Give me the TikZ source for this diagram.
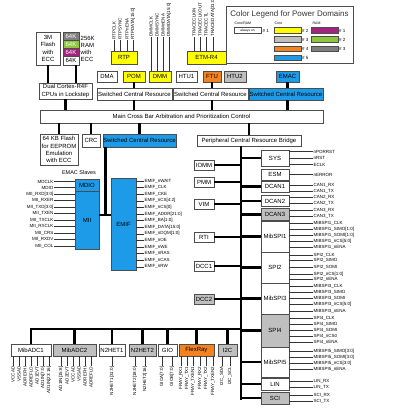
\documentclass[tikz,border=0pt]{standalone}
\usepackage{fontspec}
\setmainfont{Liberation Sans}
\usetikzlibrary{calc}
\definecolor{cyel}{HTML}{FFFF00}
\definecolor{cgray}{HTML}{BFBFBF}
\definecolor{corange}{HTML}{F58220}
\definecolor{cblue}{HTML}{1E9BE8}
\definecolor{cmag}{HTML}{A3237F}
\definecolor{cgreen}{HTML}{8DC63F}
\definecolor{cdgray}{HTML}{7F7F7F}
\definecolor{edge}{HTML}{4D4D4D}
\newcommand{\blkn}[6][]{\node[blk,#1,minimum width=#4pt,minimum height=#5pt] (#2) at (#3) {#6};}
\newcommand{\tpin}[5]{\node[plbl,rotate=90,anchor=west] (#1) at (#2,#3) {#5}; \draw[pin] (#1.west) -- (#1.west |- #4.north);}
\newcommand{\bpin}[4]{\node[plbl,rotate=90,anchor=east] (#1) at (#2,366) {#4}; \draw[pin] (#1.east) -- (#1.east |- #3.south);}
\newcommand{\rpin}[4]{\node[plbl,anchor=west] (#1) at (313,#2) {#4}; \draw[pin] (#3.east |- #1.west) -- (#1.west);}
\newcommand{\lpin}[4]{\node[plbl,anchor=east] (#1) at (54,#2) {#4}; \draw[pin] (#1.east) -- (#1.east -| #3.west);}
\newcommand{\epin}[3]{\node[plbl,anchor=west] (#1) at (144,#2) {#3}; \draw[pin] (emif.east |- #1.west) -- (#1.west);}
\begin{document}
\begin{tikzpicture}[x=1pt,y=-1pt,
  blk/.style={draw=edge, line width=0.7pt, fill=white, inner sep=0pt, font=\fontsize{6}{7.2}\selectfont, align=center},
  conn/.style={line width=2.4pt, black},
  pin/.style={line width=0.5pt, black!80},
  plbl/.style={inner sep=0.4pt, font=\fontsize{4.5}{4.5}\selectfont},
  lgbox/.style={draw=edge, line width=0.6pt, minimum width=27pt, minimum height=5.5pt, inner sep=0pt, font=\fontsize{3.2}{3.2}\selectfont},
  lgtxt/.style={inner sep=0.5pt, font=\fontsize{4.5}{4.5}\selectfont, anchor=west}]
\useasboundingbox (0,0) rectangle (403,408);

% ---------- legend ----------
\node[draw=edge, line width=0.9pt, minimum width=127pt, minimum height=57pt, inner sep=0pt] (legend) at (289.5,34.5) {};
\node[inner sep=0pt, font=\fontsize{8}{8}\selectfont, text=black!80] (legtitle) at (289.5,14) {Color Legend for Power Domains};
\node[lgtxt, font=\fontsize{3.5}{3.5}\selectfont] (lgcr) at (234,23) {Core/RAM};
\node[lgtxt, font=\fontsize{3.5}{3.5}\selectfont] (lgco) at (274,23) {Core};
\node[lgtxt, font=\fontsize{3.5}{3.5}\selectfont] (lgra) at (312,23) {RAM};
\node[lgbox, fill=white] (lgA) at (247.5,30.5) {always on};
\node[lgtxt] (lgAt) at (262,30.5) {\# 1};
\node[lgbox, fill=cyel] (lgC2) at (287.5,30.5) {};
\node[lgbox, fill=cgray] (lgC3) at (287.5,39.5) {};
\node[lgbox, fill=corange] (lgC4) at (287.5,49) {};
\node[lgbox, fill=cblue] (lgC5) at (287.5,58) {};
\node[lgtxt] (lgC2t) at (301.5,30.5) {\# 2};
\node[lgtxt] (lgC3t) at (301.5,39.5) {\# 3};
\node[lgtxt] (lgC4t) at (301.5,49) {\# 4};
\node[lgtxt] (lgC5t) at (301.5,58) {\# 5};
\node[lgbox, fill=cmag] (lgR1) at (324.5,30.5) {};
\node[lgbox, fill=cgreen] (lgR2) at (324.5,39.5) {};
\node[lgbox, fill=cdgray] (lgR3) at (324.5,49) {};
\node[lgtxt] (lgR1t) at (338.5,30.5) {\# 1};
\node[lgtxt] (lgR2t) at (338.5,39.5) {\# 2};
\node[lgtxt] (lgR3t) at (338.5,49) {\# 3};

% ---------- top blocks ----------
\blkn{flash3m}{48,48.5}{24}{33}{3M\\Flash\\with\\ECC}
\blkn[fill=cdgray,text=white]{ram1}{71,36.125}{16}{8.25}{64K}
\blkn[fill=cgreen,text=white]{ram2}{71,44.375}{16}{8.25}{64K}
\blkn[fill=cmag,text=white]{ram3}{71,52.625}{16}{8.25}{64K}
\blkn{ram4}{71,60.875}{16}{8.25}{64K}
\node[inner sep=0pt, font=\fontsize{6}{7}\selectfont, align=left, anchor=west] (ramtxt) at (80.5,48.5) {256K\\RAM\\with\\ECC};
\blkn{dual}{65.5,91}{53}{16}{Dual Cortex-R4F\\CPUs in Lockstep}
\blkn[fill=cyel]{rtp}{124,57.5}{26}{13}{RTP}
\blkn[fill=cyel]{etm}{206.5,57.5}{39}{13}{ETM-R4}
\blkn{dma}{107,76.5}{20}{11}{DMA}
\blkn[fill=cyel]{pom}{134,76.5}{22}{11}{POM}
\blkn[fill=cyel]{dmm}{160,76.5}{22}{11}{DMM}
\blkn{htu1}{186.5,76.5}{21}{11}{HTU1}
\blkn[fill=corange]{ftu}{212,76.5}{18}{11}{FTU}
\blkn[fill=cgray]{htu2}{235,76.5}{22}{11}{HTU2}
\blkn[fill=cblue]{emac}{287.5,76.5}{23}{11}{EMAC}
\blkn{scr1}{134.5,94}{75}{12}{Switched Central Resource}
\blkn{scr2}{210.5,94}{75}{12}{Switched Central Resource}
\blkn[fill=cblue]{scr3}{286,94}{74}{12}{Switched Central Resource}
\blkn{main}{181.5,116.5}{283}{13}{Main Cross Bar Arbitration and Prioritization Control}
\blkn{flash64}{59,149.5}{38}{31}{64 KB Flash\\for EEPROM\\Emulation\\with ECC}
\blkn{crc}{91,140.5}{18}{13}{CRC}
\blkn[fill=cblue]{scr4}{139.5,140.5}{73}{13}{Switched Central Resource}
\blkn{pcr}{249,140.5}{104}{11}{Peripheral Central Resource Bridge}

% ---------- top pins ----------
\tpin{rtp1}{114}{40}{rtp}{RTPCLK}
\tpin{rtp2}{120}{40}{rtp}{RTPSYNC}
\tpin{rtp3}{127}{40}{rtp}{RTPnENA}
\tpin{rtp4}{133}{40}{rtp}{RTPDATA[15:0]}
\tpin{dmm1}{151}{37}{dmm}{DMMCLK}
\tpin{dmm2}{157}{37}{dmm}{DMMSYNC}
\tpin{dmm3}{163}{37}{dmm}{DMMnENA}
\tpin{dmm4}{169}{37}{dmm}{DMMDATA[15:0]}
\tpin{etm1}{194}{37}{etm}{TRACECLKIN}
\tpin{etm2}{200}{37}{etm}{TRACECLKOUT}
\tpin{etm3}{206}{37}{etm}{TRACECTL}
\tpin{etm4}{213}{37}{etm}{TRACEDATA[31:0]}

% ---------- top connectors ----------
\draw[conn] (flash3m.south) -- (flash3m.south |- dual.north);
\coordinate (ramc) at ($(ram4.south)+(5,0)$);
\draw[conn] (ramc) -- (ramc |- dual.north);
\draw[conn] (dual.south) -- (dual.south |- main.north);
\draw[conn] (pom.south) -- (pom.south |- scr1.north);
\draw[conn] (pom.south |- scr1.south) -- (pom.south |- main.north);
\draw[conn] (ftu.south) -- (ftu.south |- scr2.north);
\draw[conn] (ftu.south |- scr2.south) -- (ftu.south |- main.north);
\draw[conn] (emac.south) -- (emac.south |- scr3.north);
\draw[conn] (emac.south |- scr3.south) -- (emac.south |- main.north);
\draw[conn] (flash64.north |- main.south) -- (flash64.north);
\draw[conn] (crc.north |- main.south) -- (crc.north);
\draw[conn] (scr4.north |- main.south) -- (scr4.north);
\draw[conn] (pcr.north |- main.south) -- (pcr.north);

% ---------- EMAC / EMIF ----------
\node[inner sep=0pt, font=\fontsize{5.5}{5.5}\selectfont] (emacsl) at (79,173) {EMAC Slaves};
\blkn[fill=cblue]{mdio}{87,185}{24}{12}{MDIO}
\blkn[fill=cblue]{mii}{87,220}{24}{58}{MII}
\blkn[fill=cblue]{emif}{123.5,224}{25}{92}{EMIF}
\coordinate (emj) at (106,215);
\coordinate (s4b) at ($(scr4.south west)+(3,0)$);
\draw[conn] (s4b) -- (s4b |- emj);
\draw[conn] (mii.east |- emj) -- (emif.west |- emj);

\lpin{mp1}{181.5}{mdio}{MDCLK}
\lpin{mp2}{187.5}{mdio}{MDIO}
\lpin{mp3}{194}{mii}{MII\_RXD[3:0]}
\lpin{mp4}{200.5}{mii}{MII\_RXER}
\lpin{mp5}{207}{mii}{MII\_TXD[3:0]}
\lpin{mp6}{213.5}{mii}{MII\_TXEN}
\lpin{mp7}{220}{mii}{MII\_TXCLK}
\lpin{mp8}{226.5}{mii}{MII\_RXCLK}
\lpin{mp9}{233}{mii}{MII\_CRS}
\lpin{mp10}{239.5}{mii}{MII\_RXDV}
\lpin{mp11}{246}{mii}{MII\_COL}

\epin{ep1}{181}{EMIF\_nWAIT}
\epin{ep2}{187.6}{EMIF\_CLK}
\epin{ep3}{194.2}{EMIF\_CKE}
\epin{ep4}{200.8}{EMIF\_nCS[4:2]}
\epin{ep5}{207.4}{EMIF\_nCS[0]}
\epin{ep6}{214}{EMIF\_ADDR[21:0]}
\epin{ep7}{220.6}{EMIF\_BA[1:0]}
\epin{ep8}{227.2}{EMIF\_DATA[15:0]}
\epin{ep9}{233.8}{EMIF\_nDQM[1:0]}
\epin{ep10}{240.4}{EMIF\_nOE}
\epin{ep11}{247}{EMIF\_nWE}
\epin{ep12}{253.6}{EMIF\_nRAS}
\epin{ep13}{260.2}{EMIF\_nCAS}
\epin{ep14}{266.8}{EMIF\_nRW}

% ---------- peripheral bus ----------
\coordinate (busb) at (241,399.5);
\draw[conn] (pcr.south -| busb) -- (busb);

\blkn{iomm}{204,165}{20}{10}{IOMM}
\blkn{pmm}{204,182}{20}{10}{PMM}
\blkn{vim}{204,204}{20}{10}{VIM}
\blkn{rti}{204,237}{20}{10}{RTI}
\blkn{dcc1}{204,266}{20}{10}{DCC1}
\blkn[fill=cgray]{dcc2}{204,299}{20}{10}{DCC2}
\foreach \n in {iomm,pmm,vim,rti,dcc1,dcc2} {\draw[conn] (\n.east) -- (\n.east -| busb);}

\blkn{sys}{275,158}{28}{16}{SYS}
\blkn{esm}{275,174.5}{28}{11}{ESM}
\blkn{dcan1}{275,186.5}{28}{11}{DCAN1}
\blkn{dcan2}{275,201}{28}{11.5}{DCAN2}
\blkn[fill=cgray]{dcan3}{275,214.5}{28}{12.5}{DCAN3}
\blkn{mibspi1}{275,236.5}{28}{31}{MibSPI1}
\blkn{spi2}{275,267.5}{28}{31}{SPI2}
\blkn{mibspi3}{275,298.5}{28}{31}{MibSPI3}
\blkn[fill=cgray]{spi4}{275,330.5}{28}{33}{SPI4}
\blkn{mibspi5}{275,362}{28}{30}{MibSPI5}
\blkn{lin}{275,384}{28}{12}{LIN}
\blkn[fill=cgray]{sci}{275,398}{28}{12}{SCI}
\foreach \n in {sys,dcan1,dcan2,dcan3,mibspi1,spi2,mibspi3,spi4,mibspi5,lin,sci} {\draw[conn] (\n.west -| busb) -- (\n.west);}

\rpin{r1}{151.7}{sys}{nPORRST}
\rpin{r2}{158}{sys}{nRST}
\rpin{r3}{164.5}{sys}{ECLK}
\rpin{r4}{174.5}{esm}{nERROR}
\rpin{r5}{185}{dcan1}{CAN1\_RX}
\rpin{r6}{191}{dcan1}{CAN1\_TX}
\rpin{r7}{197}{dcan2}{CAN2\_RX}
\rpin{r8}{203.5}{dcan2}{CAN2\_TX}
\rpin{r9}{210}{dcan3}{CAN3\_RX}
\rpin{r10}{216}{dcan3}{CAN3\_TX}
\rpin{r11}{223}{mibspi1}{MIBSPI1\_CLK}
\rpin{r12}{229}{mibspi1}{MIBSPI1\_SIMO[1:0]}
\rpin{r13}{235}{mibspi1}{MIBSPI1\_SOMI[1:0]}
\rpin{r14}{241.7}{mibspi1}{MIBSPI1\_nCS[5:0]}
\rpin{r15}{247.7}{mibspi1}{MIBSPI1\_nENA}
\rpin{r16}{255}{spi2}{SPI2\_CLK}
\rpin{r17}{260.5}{spi2}{SPI2\_SIMO}
\rpin{r18}{267}{spi2}{SPI2\_SOMI}
\rpin{r19}{274}{spi2}{SPI2\_nCS[1:0]}
\rpin{r20}{279.5}{spi2}{SPI2\_nENA}
\rpin{r21}{286}{mibspi3}{MIBSPI3\_CLK}
\rpin{r22}{292}{mibspi3}{MIBSPI3\_SIMO}
\rpin{r23}{298}{mibspi3}{MIBSPI3\_SOMI}
\rpin{r24}{304}{mibspi3}{MIBSPI3\_nCS[5:0]}
\rpin{r25}{311}{mibspi3}{MIBSPI3\_nENA}
\rpin{r26}{318}{spi4}{SPI4\_CLK}
\rpin{r27}{324}{spi4}{SPI4\_SIMO}
\rpin{r28}{330.7}{spi4}{SPI4\_SOMI}
\rpin{r29}{336.7}{spi4}{SPI4\_nCS0}
\rpin{r30}{342.7}{spi4}{SPI4\_nENA}
\rpin{r31}{351.7}{mibspi5}{MIBSPI5\_SIMO[3:0]}
\rpin{r32}{357.7}{mibspi5}{MIBSPI5\_SOMI[3:0]}
\rpin{r33}{363.7}{mibspi5}{MIBSPI5\_nCS[3:0]}
\rpin{r34}{369.3}{mibspi5}{MIBSPI5\_nENA}
\rpin{r35}{381}{lin}{LIN\_RX}
\rpin{r36}{387}{lin}{LIN\_TX}
\rpin{r37}{395}{sci}{SCI\_RX}
\rpin{r38}{401}{sci}{SCI\_TX}

% ---------- bottom row ----------
\blkn{adc1}{31,350}{40}{12}{MibADC1}
\blkn[fill=cgray]{adc2}{74.5,350}{43}{12}{MibADC2}
\blkn{het1}{112,350}{26}{12}{N2HET1}
\blkn[fill=cgray]{het2}{142.5,350}{27}{12}{N2HET2}
\blkn{gio}{167.5,350}{19}{12}{GIO}
\blkn[fill=corange]{fray}{196.5,350}{35}{12}{FlexRay}
\blkn[fill=cgray]{i2c}{227.5,350}{19}{12}{I2C}
\coordinate (hb) at (241,329);
\draw[conn] (adc1.north) -- (adc1.north |- hb) -- (hb);
\foreach \n in {adc2,het1,het2,gio,fray,i2c} {\draw[conn] (\n.north |- hb) -- (\n.north);}

\bpin{b1}{13}{adc1}{VCCAD}
\bpin{b2}{19}{adc1}{VSSAD}
\bpin{b3}{25}{adc1}{ADREFHI}
\bpin{b4}{31}{adc1}{ADREFLO}
\bpin{b5}{37}{adc1}{AD1EVT}
\bpin{b6}{43}{adc1}{AD1IN[7:0]}
\bpin{b7}{49}{adc1}{AD1IN[23:16]}
\bpin{b8}{61}{adc2}{AD1IN[15:8]}
\bpin{b9}{67}{adc2}{AD2EVT}
\bpin{b10}{73}{adc2}{VCCAD}
\bpin{b11}{79}{adc2}{VSSAD}
\bpin{b12}{85}{adc2}{ADREFHI}
\bpin{b13}{91}{adc2}{ADREFLO}
\bpin{b14}{112}{het1}{N2HET1[31:0]}
\bpin{b15}{135}{het2}{N2HET2[18:0]}
\bpin{b16}{145}{het2}{N2HET2[16]}
\bpin{b17}{162}{gio}{GIOA[7:0]}
\bpin{b18}{172}{gio}{GIOB[7:0]}
\bpin{b19}{181}{fray}{FRAY\_RX1}
\bpin{b20}{187}{fray}{FRAY\_TX1}
\bpin{b21}{193}{fray}{FRAY\_TXEN1}
\bpin{b22}{200}{fray}{FRAY\_RX2}
\bpin{b23}{206}{fray}{FRAY\_TX2}
\bpin{b24}{213}{fray}{FRAY\_TXEN2}
\bpin{b25}{222}{i2c}{I2C\_SDA}
\bpin{b26}{230}{i2c}{I2C\_SCL}
\end{tikzpicture}
\end{document}
